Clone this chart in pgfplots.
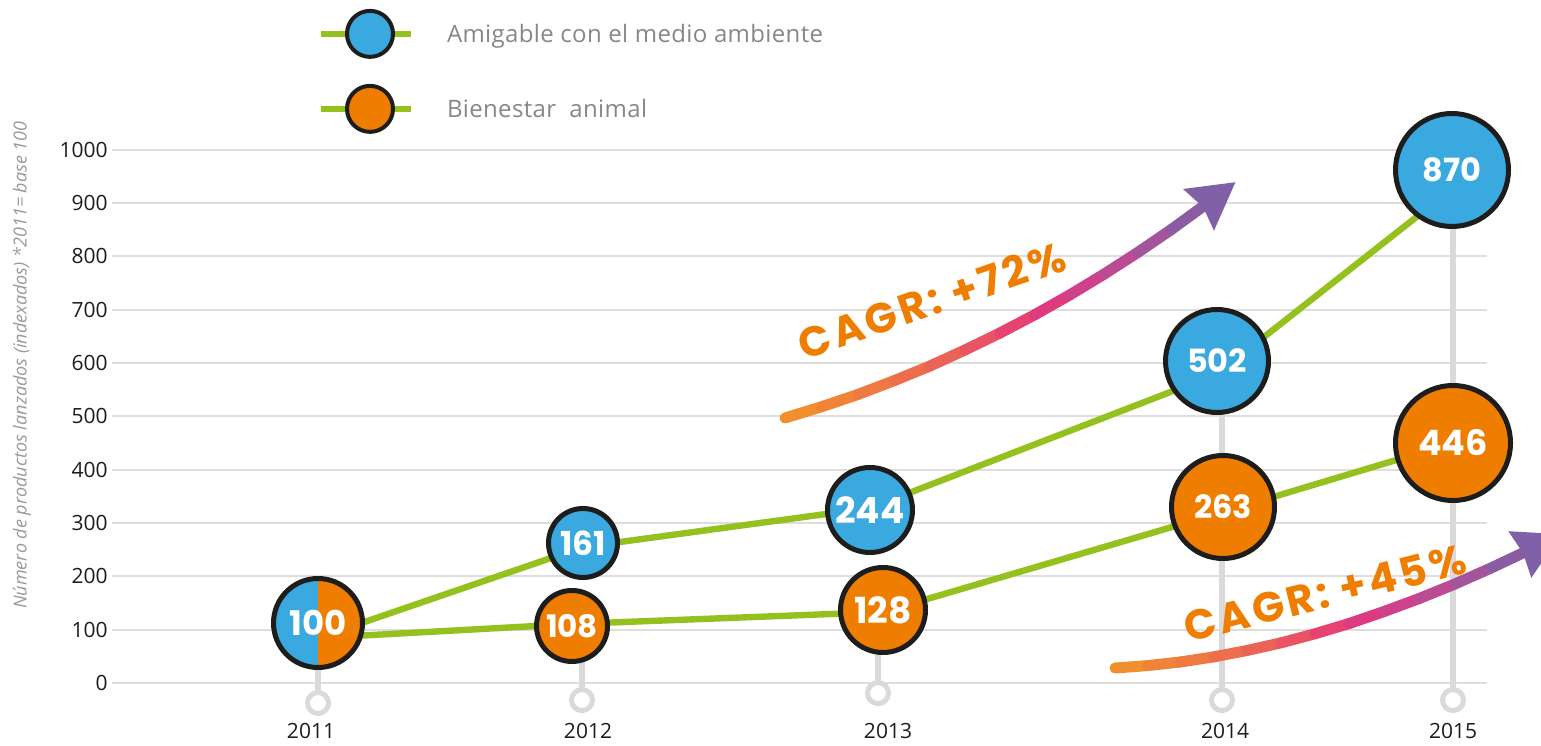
\documentclass[border=0pt]{standalone}
\usepackage{pgfplots}
\pgfplotsset{compat=1.18}
\usepackage{fontspec}
\setmainfont{Open Sans}
\newfontfamily\numfont{Poppins}
\newfontfamily\cagrfont{Poppins}[LetterSpace=8]
\newfontfamily\legfont{Open Sans}[LetterSpace=1.5]
\definecolor{cblue}{RGB}{58,169,224}
\definecolor{corange}{RGB}{239,125,0}
\definecolor{cgreen}{RGB}{149,193,31}
\definecolor{cdark}{RGB}{29,29,27}
\definecolor{cgrid}{RGB}{222,222,222}
\definecolor{cstem}{RGB}{218,218,218}
\definecolor{ctext}{RGB}{135,135,135}
\definecolor{cpurple}{RGB}{128,96,166}

\pgfdeclareplotmark{splitcircle}{%
  \pgfpathmoveto{\pgfqpoint{0pt}{\pgfplotmarksize}}%
  \pgfpatharc{90}{270}{\pgfplotmarksize}%
  \pgfpathclose
  \pgfsetfillcolor{cblue}\pgfusepath{fill}%
  \pgfpathmoveto{\pgfqpoint{0pt}{-\pgfplotmarksize}}%
  \pgfpatharc{-90}{90}{\pgfplotmarksize}%
  \pgfpathclose
  \pgfsetfillcolor{corange}\pgfusepath{fill}%
  \pgfpathcircle{\pgfpointorigin}{\pgfplotmarksize}%
  \pgfusepath{stroke}%
}

\pgfplotsset{colormap={cagr}{rgb255=(242,148,42) rgb255=(238,122,64) rgb255=(234,96,90) rgb255=(228,55,125) rgb255=(185,76,148) rgb255=(128,96,166)}}

% bubble: #1 fill colour, #2 radius (pt), #3 label size (pt), #4 label
\pgfplotsset{bubble/.style n args={4}{only marks, mark=*, mark size=#2pt,
  mark options={draw=cdark, fill=#1, line width=2.5pt},
  point meta=explicit symbolic,
  nodes near coords={\fontsize{#3pt}{#3pt}\selectfont\numfont\bfseries #4},
  nodes near coords align=center,
  every node near coord/.append style={text=white, anchor=center, inner sep=0pt},
}}

\begin{document}
\begin{tikzpicture}
\path[use as bounding box] (0,0) rectangle (770.5pt,372.5pt);
\begin{axis}[
  at={(56pt,0pt)}, anchor=south west,
  scale only axis, width=687.5pt, height=372.5pt,
  xmin=112, xmax=1487, ymin=-116.25, ymax=1280.625,
  clip=false,
  point meta min=0, point meta max=12,
  axis line style={draw=none},
  major tick style={draw=none},
  ytick={0,100,...,1000},
  ymajorgrids,
  major grid style={cgrid, line width=0.9pt},
  /pgf/number format/1000 sep={},
  /pgf/number format/assume math mode=true,
  yticklabel style={font=\fontsize{10.5}{12}\selectfont, text=cdark, anchor=east, inner sep=0pt, xshift=-2pt},
  xtick={311,588,888,1225,1453},
  xticklabels={2011,2012,2013,2014,2015},
  xticklabel style={font=\fontsize{10.5}{12}\selectfont, text=cdark, anchor=center, yshift=7pt},
  ylabel={Número de productos lanzados (indexados) *2011= base 100},
  every axis y label/.style={at={(rel axis cs:-0.0655,0.51)}, rotate=90, anchor=center,
     font=\itshape\fontsize{9}{11}\selectfont, text=ctext!85},
  legend cell align=left,
  legend style={at={(axis cs:318,1264)}, anchor=north west, draw=none, fill=none,
     inner sep=0pt, outer sep=0pt, row sep=12.5pt, column sep=16.5pt,
     nodes={inner sep=0pt}, font=\legfont\fontsize{12}{14}\selectfont, text=ctext},
]
% stems
\addplot[forget plot, cstem, line width=3pt] coordinates {(318,-37.5) (318,112.5)};
\addplot[forget plot, cstem, line width=3pt] coordinates {(582,-32) (582,106.9)};
\addplot[forget plot, cstem, line width=3pt] coordinates {(878,-19) (878,136.9)};
\addplot[forget plot, cstem, line width=3pt] coordinates {(1222,-32) (1222,603.75)};
\addplot[forget plot, cstem, line width=3pt] coordinates {(1453,-32) (1453,961.9)};
\addplot[forget plot, only marks, mark=*, mark size=5.25pt, mark options={draw=cstem, fill=white, line width=2.5pt}]
  coordinates {(318,-37.5) (582,-32) (878,-19) (1222,-32) (1453,-32)};
% CAGR arrows (colour runs along the arrow: m = 0 .. 12)
\addplot[forget plot, mesh, colormap name=cagr, point meta=explicit, line width=5.5pt, line cap=round]
  table[meta=m, row sep=\\] {x y m\\
785 496.9 0\\ 821.5 517.9 1\\ 857.8 540.9 2\\ 893.8 566.6 3\\ 929.5 594 4\\ 964.8 624.2 5\\
1000 656.25 6\\ 1034.9 690.6 7\\ 1069.5 727.3 8\\ 1103.8 766.3 9\\ 1137.7 807.2 10\\
1171.5 850.5 11\\ 1205 896.25 12\\};
\addplot[forget plot, fill=cpurple, draw=none] coordinates {(1235.4,939) (1183,926.25) (1203,892.5) (1214,848.25)};
\addplot[forget plot, mesh, colormap name=cagr, point meta=explicit, line width=5.5pt, line cap=round]
  table[meta=m, row sep=\\] {x y m\\
1115 28.1 0\\ 1147.5 32.6 1\\ 1180.3 39.4 2\\ 1213.5 48.9 3\\ 1246.9 60.9 4\\ 1280.8 75.2 5\\
1315 92.3 6\\ 1349.5 111.75 7\\ 1384.2 134.1 8\\ 1419.5 158.6 9\\ 1454.9 185.6 10\\
1490.8 215.4 11\\ 1527 247.5 12\\};
\addplot[forget plot, fill=cpurple, draw=none] coordinates {(1561,279) (1508.3,284.6) (1523,243.75) (1531.3,197.25)};
\node[rotate=19, text=corange, font=\cagrfont\bfseries\fontsize{21}{21}\selectfont] at (axis cs:932,718) {CAGR: +72\%};
\node[rotate=14, text=corange, font=\cagrfont\bfseries\fontsize{21}{21}\selectfont] at (axis cs:1325,168.75) {CAGR: +45\%};
% green connecting lines
\addplot[forget plot, cgreen, line width=3.2pt, line join=round] coordinates {(318,84.4) (583,255) (870,328) (1217,579.4) (1452,926.25)};
\addplot[forget plot, cgreen, line width=3.2pt, line join=round] coordinates {(318,84.4) (572,110.6) (883,133.1) (1223,320.6) (1453,450)};
% 2011 base circle
\addplot[forget plot, only marks, mark=splitcircle, mark size=22.25pt, mark options={draw=cdark, line width=2.5pt},
  point meta=explicit symbolic,
  nodes near coords={\fontsize{17pt}{17pt}\selectfont\numfont\bfseries 100},
  nodes near coords align=center,
  every node near coord/.append style={text=white, anchor=center, inner sep=0pt}]
  coordinates {(318,112.5)};
% Amigable con el medio ambiente
\addplot[bubble={cblue}{17.25}{16.5}{161},
  legend image code/.code={\draw[cgreen, line width=3pt] (0pt,0.3pt) -- (45pt,0.3pt);
     \draw[fill=cblue, draw=cdark, line width=2pt] (24.5pt,0.3pt) circle (11.5pt);}]
  coordinates {(583,262.5)};
\addlegendentry{Amigable con el medio ambiente}
% Bienestar animal
\addplot[bubble={corange}{17.75}{15.5}{108},
  legend image code/.code={\draw[cgreen, line width=3pt] (0pt,0.3pt) -- (45pt,0.3pt);
     \draw[fill=corange, draw=cdark, line width=2pt] (24.5pt,0.3pt) circle (11.5pt);}]
  coordinates {(572,106.9)};
\addlegendentry{Bienestar\ \ animal}
\addplot[forget plot, bubble={cblue}{21.25}{18}{244}] coordinates {(870,324.4)};
\addplot[forget plot, bubble={cblue}{25.75}{16}{502}] coordinates {(1217,603.75)};
\addplot[forget plot, bubble={cblue}{28.25}{16}{870}] coordinates {(1452,961.9)};
\addplot[forget plot, bubble={corange}{21.25}{18}{128}] coordinates {(883,136.9)};
\addplot[forget plot, bubble={corange}{25.75}{16}{263}] coordinates {(1223,330)};
\addplot[forget plot, bubble={corange}{28.75}{17.5}{446}] coordinates {(1453,450)};
\end{axis}
\end{tikzpicture}
\end{document}
